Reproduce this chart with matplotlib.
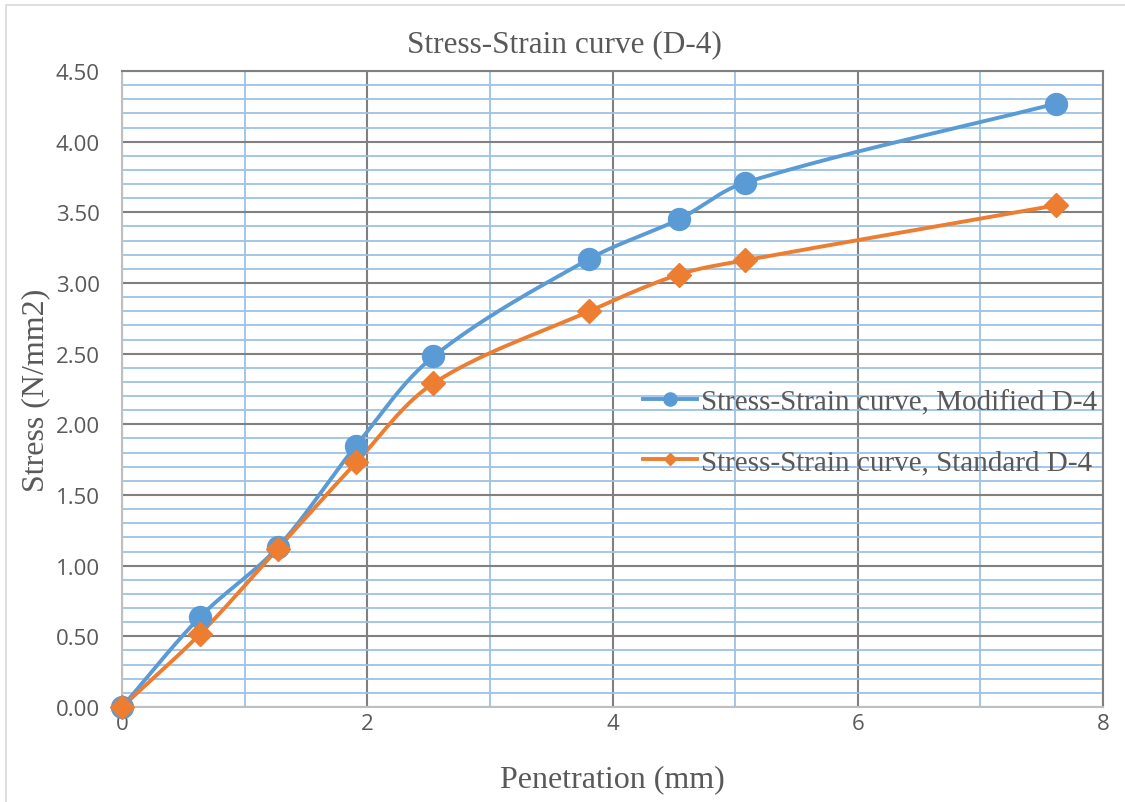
import numpy as np
import matplotlib
matplotlib.use("Agg")
import matplotlib.pyplot as plt
from matplotlib.patches import Rectangle
from matplotlib.ticker import MultipleLocator

# data
penetration = [0, 0.64, 1.27, 1.91, 2.54, 3.81, 4.54, 5.08, 7.62]
stress_modified = [0, 0.64, 1.13, 1.85, 2.48, 3.17, 3.45, 3.71, 4.27]
stress_standard = [0, 0.52, 1.12, 1.73, 2.29, 2.80, 3.06, 3.16, 3.55]
series_names = ["Stress-Strain curve, Modified D-4", "Stress-Strain curve, Standard D-4"]

blue = "#5B9BD5"
orange = "#ED7D31"


def smooth(x, y, sx=122.6, sy=141.3, n=40):
    # smoothed line: cubic bezier through the points, worked out in screen-like units
    p = np.column_stack([np.asarray(x) * sx, np.asarray(y) * sy]).astype(float)
    m = len(p)
    tang = np.zeros_like(p)
    for i in range(m):
        a = p[max(i - 1, 0)]
        b = p[min(i + 1, m - 1)]
        d = b - a
        tang[i] = d / np.hypot(*d)
    out = []
    t = np.linspace(0, 1, n)[:, None]
    for i in range(m - 1):
        p0, p3 = p[i], p[i + 1]
        L = np.hypot(*(p3 - p0)) / 3
        c1 = p0 + tang[i] * L
        c2 = p3 - tang[i + 1] * L
        seg = ((1 - t) ** 3) * p0 + 3 * ((1 - t) ** 2) * t * c1 + 3 * (1 - t) * t ** 2 * c2 + t ** 3 * p3
        out.append(seg)
    out = np.vstack(out)
    return out[:, 0] / sx, out[:, 1] / sy


fig = plt.figure(figsize=(11.25, 8.03), dpi=100)
ax = fig.add_axes([122 / 1125, 1 - 708 / 803, 981 / 1125, 636 / 803])

# outer chart border
fig.patches.append(Rectangle((6 / 1125, -0.01), 1.2, 1 - 6 / 803 + 0.01, transform=fig.transFigure,
                             fill=False, edgecolor="#D9D9D9", linewidth=1.2))

ax.set_xlim(0, 8)
ax.set_ylim(0, 4.5)
ax.xaxis.set_major_locator(MultipleLocator(2))
ax.xaxis.set_minor_locator(MultipleLocator(1))
ax.yaxis.set_major_locator(MultipleLocator(0.5))
ax.yaxis.set_minor_locator(MultipleLocator(0.1))
ax.set_axisbelow(True)
ax.grid(which="minor", color="#9DC3E6", linewidth=1.3)
ax.grid(which="major", color="#808080", linewidth=1.5)
ax.tick_params(which="both", length=0)
ax.tick_params(axis="y", pad=16)
ax.tick_params(axis="x", pad=4)

for s in ["top", "right"]:
    ax.spines[s].set_color("#808080")
    ax.spines[s].set_linewidth(1.5)
for s in ["left", "bottom"]:
    ax.spines[s].set_color("#BFBFBF")
    ax.spines[s].set_linewidth(1.5)

ax.set_yticks(np.arange(0, 4.51, 0.5))
ax.set_yticklabels([f"{v:.2f}" for v in np.arange(0, 4.51, 0.5)])
for lab in ax.get_xticklabels() + ax.get_yticklabels():
    lab.set_fontfamily("Open Sans")
    lab.set_fontsize(16)
    lab.set_color("#595959")

xs, ys = smooth(penetration, stress_modified)
ax.plot(xs, ys, color=blue, linewidth=2.8, zorder=3, solid_capstyle="round", clip_on=False)
ax.plot(penetration, stress_modified, "o", color=blue, markersize=15.8, zorder=4, clip_on=False)
xs, ys = smooth(penetration, stress_standard)
ax.plot(xs, ys, color=orange, linewidth=2.8, zorder=3, solid_capstyle="round", clip_on=False)
ax.plot(penetration, stress_standard, "D", color=orange, markersize=12, zorder=4, clip_on=False)

serif = "Liberation Serif"
fig.text(564 / 1125, 1 - 45 / 803, "Stress-Strain curve (D-4)", fontfamily=serif, fontsize=22.5,
         color="#595959", ha="center", va="center")
ax.set_xlabel("Penetration (mm)", fontfamily=serif, fontsize=23, color="#595959", labelpad=22)
ax.set_ylabel("Stress (N/mm2)", fontfamily=serif, fontsize=23, color="#595959", labelpad=4)

h1, = ax.plot([], [], color=blue, linewidth=2.8, marker="o", markersize=9.5)
h2, = ax.plot([], [], color=orange, linewidth=2.8, marker="D", markersize=6.5)
leg = ax.legend([h1, h2], series_names, loc="center left", bbox_to_anchor=(643 / 1125, 1 - 433 / 803),
                bbox_transform=fig.transFigure, frameon=False, handlelength=1.85, handletextpad=0.15,
                labelspacing=1.14, borderpad=0, borderaxespad=0, prop={"family": serif, "size": 21})
for t in leg.get_texts():
    t.set_color("#595959")

fig.savefig("out.png", dpi=100)
